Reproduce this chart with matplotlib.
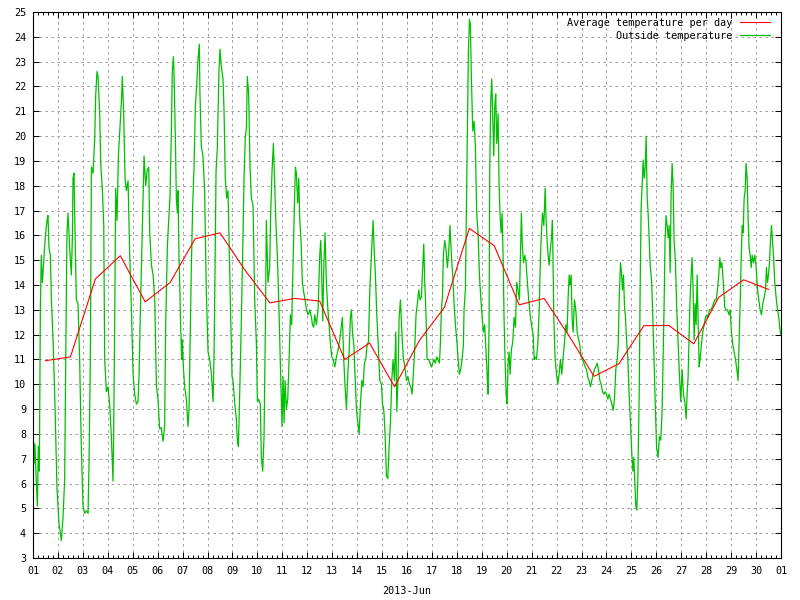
import numpy as np
import matplotlib
matplotlib.use("Agg")
import matplotlib.pyplot as plt
import matplotlib.dates as mdates
from matplotlib.ticker import AutoMinorLocator

# ---- data: hours since 2013-06-01 00:00 and outside temperature ----
hours_a = [0, 1.0, 1.9, 2.9, 4.2, 5.1, 6.1, 7.1, 8.0, 9.0,
           10.0, 10.9, 12.2, 13.5, 14.4, 15.4, 16.7, 17.7, 19.3, 20.9,
           21.8, 23.1, 25.0, 27.3, 28.9, 30.5, 31.5, 32.7, 33.7, 35.3,
           36.9, 37.9, 38.5, 39.5, 40.1, 41.7, 43.3, 44.9, 46.5, 48.1,
           49.8, 51.4, 53.0, 53.9, 55.2, 56.2, 57.8, 59.4, 60.3, 61.6,
           62.6, 64.2, 65.2, 66.8, 68.1, 69.0, 70.6, 72.2, 73.8, 75.4,
           77.0, 77.7, 78.6, 79.6, 80.9, 82.2, 83.5, 85.1, 86.0, 87.3,
           88.6, 89.9, 91.5, 93.1, 94.7, 96.3, 97.9, 99.5, 101.1, 102.1,
           103.4, 105.3, 106.9, 108.5, 109.8, 111.4, 112.4, 114.0, 115.6, 117.2,
           118.8]
temps_a = [8.3, 6.8, 7.6, 6.3, 5.1, 7.5, 6.5, 13.1, 15.2, 14.1,
           14.7, 15.4, 16.1, 16.6, 16.8, 15.5, 15.2, 13.4, 11.8, 9.6,
           8.0, 5.8, 4.4, 3.7, 4.65, 6.2, 11.0, 16.1, 16.9, 15.5,
           14.4, 15.9, 18.3, 18.5, 16.9, 13.4, 13.25, 11.0, 7.5, 5.1,
           4.8, 4.9, 4.8, 6.8, 11.0, 18.75, 18.5, 19.9, 21.6, 22.6,
           22.4, 20.9, 18.9, 17.8, 16.4, 11.0, 9.7, 9.9, 9.2, 7.9,
           6.1, 8.2, 12.4, 17.9, 16.6, 19.2, 20.2, 21.4, 22.4, 20.9,
           18.3, 17.8, 18.2, 15.2, 13.1, 10.4, 9.6, 9.2, 9.3, 10.4,
           13.0, 16.4, 19.2, 18.0, 18.6, 18.75, 16.1, 14.8, 14.4, 13.4,
           9.9]

hours_b = [120.3, 121.9, 123.5, 125.1, 126.7, 127.7, 129.3, 130.6, 131.9, 133.1,
           134.1, 135.1, 135.7, 137.0, 138.0, 138.9, 139.6, 140.5, 141.2, 142.1,
           143.1, 143.7, 144.7, 146.0, 147.6, 149.2, 150.2, 151.1, 152.4, 153.7,
           155.0, 156.3, 157.5, 158.8, 160.1, 160.7, 162.0, 163.6, 165.2, 166.8,
           168.5, 170.1, 171.7, 173.3, 174.2, 174.9, 176.2, 177.4, 179.0, 180.0,
           181.3, 182.9, 183.9, 185.1, 186.4, 187.7, 188.7, 190.3, 191.6, 192.5,
           194.1, 195.7, 196.7, 197.7, 199.0, 200.6, 202.2, 203.1, 204.4, 205.4,
           206.3, 207.6, 208.9, 210.2, 211.8, 213.4, 215.0, 216.0, 217.2, 218.8,
           219.8, 221.1, 222.4, 223.7, 224.6, 226.2, 227.8, 228.8, 230.1, 231.4,
           232.7, 233.9, 235.2, 236.5, 238.4, 239.7]
temps_b = [9.4, 8.2, 8.25, 7.7, 8.3, 12.4, 15.5, 16.6, 17.6, 20.0,
           22.6, 23.2, 22.6, 20.0, 17.5, 16.9, 17.8, 15.2, 14.1, 12.4,
           11.0, 11.8, 10.7, 9.9, 9.4, 8.3, 9.0, 11.3, 14.7, 17.2,
           18.75, 21.2, 22.0, 23.1, 23.7, 21.7, 19.6, 19.2, 17.8, 13.8,
           11.3, 11.0, 10.4, 9.3, 11.0, 13.4, 18.6, 19.5, 22.6, 23.5,
           22.8, 22.3, 21.0, 18.3, 17.5, 17.8, 15.8, 12.7, 10.3, 10.15,
           9.3, 8.6, 7.75, 7.5, 9.7, 12.7, 16.1, 18.3, 20.0, 20.3,
           22.4, 21.7, 18.75, 17.5, 17.2, 13.4, 11.7, 9.3, 9.4, 9.2,
           7.05, 6.5, 7.9, 12.4, 16.6, 14.1, 14.7, 16.9, 18.6, 19.7,
           18.05, 16.4, 15.2, 13.4, 10.3, 8.3]

hours_c = [240.7, 241.7, 242.6, 243.9, 245.2, 246.5, 247.8, 249.0, 250.3, 251.6,
           252.6, 253.5, 254.8, 255.8, 256.8, 258.0, 259.3, 260.6, 261.9, 263.2,
           264.8, 266.4, 268.0, 269.0, 270.2, 271.2, 272.8, 274.4, 276.0, 277.0,
           277.9, 278.9, 279.9, 281.1, 282.4, 283.7, 285.0, 286.3, 287.6, 288.9,
           290.5, 292.1, 293.7, 295.3, 296.9, 297.8, 299.1, 300.4, 301.7, 303.0,
           304.3, 305.5, 306.5, 307.5, 308.8, 310.0, 311.3, 312.6, 313.9, 315.2,
           316.5, 317.7, 319.0, 320.3, 321.6, 322.9, 324.2, 325.4, 326.4, 327.4,
           328.3, 329.6, 330.9, 332.2, 333.8, 335.4, 336.4, 337.6, 338.9, 340.2,
           341.5, 342.8, 344.1, 345.3, 346.6, 347.9, 349.2, 350.2, 351.4, 352.4,
           353.7, 354.7, 356.3, 357.9, 359.5]
temps_c = [10.3, 8.46, 10.15, 9.0, 9.4, 11.0, 12.8, 12.4, 14.9, 17.2,
           18.75, 18.5, 17.3, 18.3, 16.6, 15.8, 14.1, 13.7, 13.4, 13.0,
           12.8, 13.0, 12.7, 12.4, 12.3, 12.8, 12.4, 13.0, 15.2, 15.8,
           14.4, 12.55, 14.7, 16.1, 14.1, 13.1, 12.4, 11.6, 11.1, 11.0,
           10.7, 11.1, 11.4, 11.8, 12.4, 12.7, 11.0, 9.9, 9.0, 10.4,
           11.3, 12.7, 13.0, 12.1, 11.6, 10.3, 9.0, 8.46, 8.0, 9.2,
           10.15, 9.9, 10.85, 11.0, 11.6, 11.7, 13.8, 14.9, 15.8, 16.6,
           15.5, 14.4, 12.8, 11.7, 10.15, 10.0, 9.2, 9.0, 8.0, 6.3,
           6.2, 7.5, 8.46, 10.15, 11.0, 10.15, 12.1, 8.9, 10.3, 12.7,
           13.4, 12.4, 11.1, 10.7, 10.15]

hours_d = [361.0, 362.3, 363.6, 364.9, 366.1, 367.4, 368.7, 370.0, 371.3, 372.6,
           373.8, 375.1, 376.1, 377.1, 378.3, 379.3, 380.9, 382.2, 383.5, 384.8,
           386.0, 387.3, 388.6, 389.9, 391.2, 392.1, 393.1, 394.1, 395.0, 396.3,
           397.6, 398.9, 400.2, 401.4, 402.7, 404.0, 405.3, 406.6, 407.9, 409.2,
           410.4, 411.7, 413.0, 414.3, 414.9, 416.2, 417.2, 418.1, 419.1, 420.1,
           421.0, 422.0, 423.3, 424.6, 425.8, 427.1, 428.4, 429.7, 431.0, 432.3,
           433.5, 434.8, 436.1, 437.4, 438.0, 439.0, 439.6, 440.6, 441.6, 442.5,
           443.5, 444.5, 445.4, 446.4, 447.7, 448.6, 449.6, 450.6, 451.5, 452.5,
           453.4, 454.4, 455.4, 456.3, 457.3, 458.3, 459.2, 460.5, 461.8, 463.1,
           464.4, 465.6, 466.9, 468.2, 469.2, 470.1, 471.1, 472.1, 473.4, 474.6,
           475.9, 477.2, 478.5, 479.8]
temps_d = [10.3, 10.0, 9.9, 9.6, 10.4, 11.4, 12.8, 13.25, 13.8, 13.4,
           13.5, 14.7, 15.65, 14.1, 12.8, 11.0, 11.0, 10.85, 10.7, 10.85,
           11.0, 10.85, 11.1, 11.0, 10.85, 11.6, 13.0, 13.5, 15.2, 15.8,
           15.4, 14.7, 15.4, 16.4, 15.2, 14.4, 13.25, 12.4, 11.8, 11.0,
           10.4, 10.6, 11.0, 11.6, 13.0, 13.8, 17.2, 20.2, 23.4, 24.7,
           24.5, 22.3, 20.2, 20.6, 19.6, 16.9, 16.1, 14.4, 13.5, 12.7,
           12.1, 12.4, 11.3, 10.15, 9.6, 12.4, 18.6, 21.4, 22.3, 20.9,
           19.2, 21.2, 21.7, 19.7, 20.9, 18.05, 16.8, 16.1, 16.9, 15.2,
           12.7, 11.0, 9.6, 9.2, 10.85, 11.3, 10.4, 11.4, 11.7, 12.7,
           12.3, 14.1, 13.8, 13.4, 15.2, 16.9, 15.5, 14.9, 15.2, 14.9,
           14.1, 13.4, 12.8, 12.4]

hours_e = [481.4, 482.4, 483.3, 484.6, 485.9, 487.2, 488.5, 489.4, 490.4, 491.7,
           493.0, 493.9, 494.9, 495.8, 496.8, 498.1, 499.1, 500.0, 501.3, 502.6,
           503.9, 505.2, 506.4, 507.7, 509.0, 510.3, 511.6, 512.9, 514.1, 515.1,
           516.1, 517.0, 518.0, 519.0, 519.9, 521.2, 522.5, 523.8, 525.1, 526.3,
           527.6, 528.9, 530.2, 531.5, 532.8, 534.0, 535.3, 536.6, 537.9, 539.2,
           540.5, 541.7, 543.0, 544.3, 545.6, 546.9, 548.2, 549.5, 550.7, 552.0,
           553.3, 554.6, 555.9, 557.2, 558.4, 559.7, 561.0, 562.3, 563.3, 564.2,
           565.5, 566.5, 567.4, 568.4, 569.4, 570.3, 571.3, 572.6, 573.8, 575.1,
           576.4, 577.4, 578.3, 579.3, 580.3, 581.2, 582.2, 583.5, 584.4, 585.4,
           586.4, 587.3, 588.3, 589.3, 590.2, 591.2, 592.1, 593.1, 594.1, 595.4,
           596.3, 597.6, 598.9, 600.2]
temps_e = [12.0, 11.0, 11.1, 11.0, 11.6, 13.0, 15.2, 16.1, 16.9, 16.4,
           17.9, 16.6, 15.8, 15.2, 14.8, 15.5, 15.9, 16.6, 12.7, 11.0,
           10.4, 10.0, 10.4, 11.0, 10.4, 11.1, 11.7, 12.4, 12.1, 13.5,
           14.4, 14.0, 14.4, 12.55, 12.1, 13.4, 13.0, 12.1, 11.8, 11.6,
           11.1, 11.0, 10.85, 10.7, 10.6, 10.3, 10.15, 9.9, 10.15, 10.4,
           10.6, 10.7, 10.85, 10.6, 10.15, 10.0, 9.7, 9.6, 9.7, 9.6,
           9.4, 9.6, 9.4, 9.2, 8.95, 9.4, 10.6, 11.0, 11.6, 13.4,
           14.9, 14.5, 13.8, 14.4, 13.1, 12.7, 11.8, 11.0, 9.6, 8.46,
           7.2, 6.5, 7.05, 6.06, 5.07, 4.93, 6.2, 9.6, 13.8, 17.2,
           18.05, 19.04, 18.3, 18.75, 20.0, 17.5, 16.9, 15.8, 14.8, 14.2,
           13.1, 11.3, 9.3, 7.5]

hours_f = [601.7, 603.0, 604.3, 605.6, 606.5, 607.5, 608.4, 609.4, 610.4, 611.3,
           612.3, 613.3, 614.2, 615.2, 616.1, 617.1, 618.4, 619.7, 621.0, 622.2,
           623.5, 624.8, 626.1, 627.4, 628.7, 629.6, 630.6, 631.6, 632.5, 633.5,
           634.4, 635.4, 636.4, 637.3, 638.3, 639.3, 640.2, 641.2, 642.1, 643.4,
           644.7, 646.0, 647.3, 648.6, 649.9, 651.1, 652.4, 653.7, 655.0, 656.3,
           657.6, 658.8, 660.1, 661.1, 662.0, 663.0, 664.0, 664.9, 665.9, 667.2,
           668.5, 669.8, 671.0, 672.3, 673.6, 674.9, 676.2, 677.5, 678.7, 679.7,
           680.7, 681.6, 682.6, 683.6, 684.5, 685.5, 686.4, 687.4, 688.4, 689.3,
           690.3, 691.3, 692.2, 693.5, 694.8, 696.1, 697.4, 698.6, 699.9, 701.2,
           702.5, 703.8, 705.1, 706.0, 707.0, 707.9, 708.9, 709.9, 710.8, 711.8,
           712.8, 714.0, 715.3, 716.6, 717.9, 719.2, 720.0]
temps_f = [7.05, 7.9, 7.75, 9.0, 11.0, 13.25, 15.8, 16.8, 16.4, 15.9,
           16.4, 14.5, 17.6, 18.9, 18.05, 15.8, 14.9, 13.0, 11.6, 10.4,
           9.3, 10.6, 9.6, 9.3, 8.6, 9.6, 10.3, 12.1, 13.5, 14.4,
           15.1, 13.8, 11.8, 13.25, 12.4, 14.4, 12.7, 10.7, 11.0, 11.6,
           12.1, 12.4, 12.7, 12.8, 12.7, 13.0, 13.0, 13.1, 13.25, 13.4,
           13.4, 13.8, 14.4, 15.1, 14.7, 14.9, 14.4, 13.8, 13.1, 13.0,
           13.0, 12.8, 13.0, 12.1, 11.6, 11.3, 11.0, 10.6, 10.15, 11.8,
           13.25, 14.9, 16.4, 16.1, 17.5, 17.8, 18.9, 18.3, 16.6, 15.5,
           15.2, 14.7, 15.2, 14.9, 15.2, 14.7, 13.8, 13.4, 13.0, 12.8,
           13.25, 13.5, 13.8, 14.7, 14.1, 14.4, 14.9, 15.8, 16.4, 15.8,
           15.2, 14.1, 13.5, 13.0, 12.7, 12.1, 12.0]

# daily averages (plotted at noon of each day of June)
avg_days = list(range(1, 31))
avg_temps = [10.95, 11.1, 14.24, 15.18, 13.32, 14.1, 15.86, 16.1, 14.6, 13.28,
             13.46, 13.35, 11.0, 11.66, 9.9, 11.77, 13.1, 16.28, 15.58, 13.2,
             13.46, 11.95, 10.32, 10.83, 12.36, 12.37, 11.63, 13.5, 14.21, 13.82]

y_ticks = list(range(3, 26))
x_label = "2013-Jun"
label_avg = "Average temperature per day"
label_out = "Outside temperature"

# ---- build series ----
obs_hours = np.array(hours_a + hours_b + hours_c + hours_d + hours_e + hours_f)
obs_temps = np.array(temps_a + temps_b + temps_c + temps_d + temps_e + temps_f)
base = np.datetime64("2013-06-01T00:00")
obs_t = base + np.round(obs_hours * 60).astype(int).astype("timedelta64[m]")
avg_t = np.array([np.datetime64(f"2013-06-{d:02d}T12:00") for d in avg_days])

mono = "DejaVu Sans Mono"
plt.rcParams["font.family"] = mono
plt.rcParams["font.size"] = 7.3

fig = plt.figure(figsize=(8, 6), dpi=100)
ax = fig.add_axes([33 / 800, 1 - 558 / 600, 748 / 800, 546 / 600])

green, = ax.plot(obs_t, obs_temps, color="#00c000", lw=0.9)
red, = ax.plot(avg_t, avg_temps, color="#ff0000", lw=0.8)

ax.set_xlim(np.datetime64("2013-06-01T00:00"), np.datetime64("2013-07-01T00:00"))
ax.set_ylim(3, 25)
ax.set_yticks(y_ticks)
ax.xaxis.set_major_locator(mdates.DayLocator())
ax.xaxis.set_major_formatter(mdates.DateFormatter("%d"))
ax.xaxis.set_minor_locator(AutoMinorLocator(5))

ax.tick_params(which="both", direction="in", top=True, right=True, width=0.7, colors="black")
ax.tick_params(which="major", length=4.3)
ax.tick_params(which="minor", length=2.2)
ax.tick_params(axis="x", which="major", pad=6)
ax.tick_params(axis="y", which="major", pad=5)
for s in ax.spines.values():
    s.set_linewidth(0.8)
    s.set_color("black")

ax.grid(True, which="major", color="#a0a0a0", linestyle=(0, (2.5, 3.5)), linewidth=0.72)
ax.set_axisbelow(True)

ax.set_xlabel(x_label, labelpad=7)

leg = ax.legend([red, green], [label_avg, label_out], loc="upper right",
                bbox_to_anchor=(1 - 11 / 748, 1 - 6 / 546), borderaxespad=0,
                borderpad=0, frameon=False, markerfirst=False,
                handlelength=3.0, handletextpad=0.7, labelspacing=0.25,
                fontsize=7.3)

fig.savefig("out.png", dpi=100)
